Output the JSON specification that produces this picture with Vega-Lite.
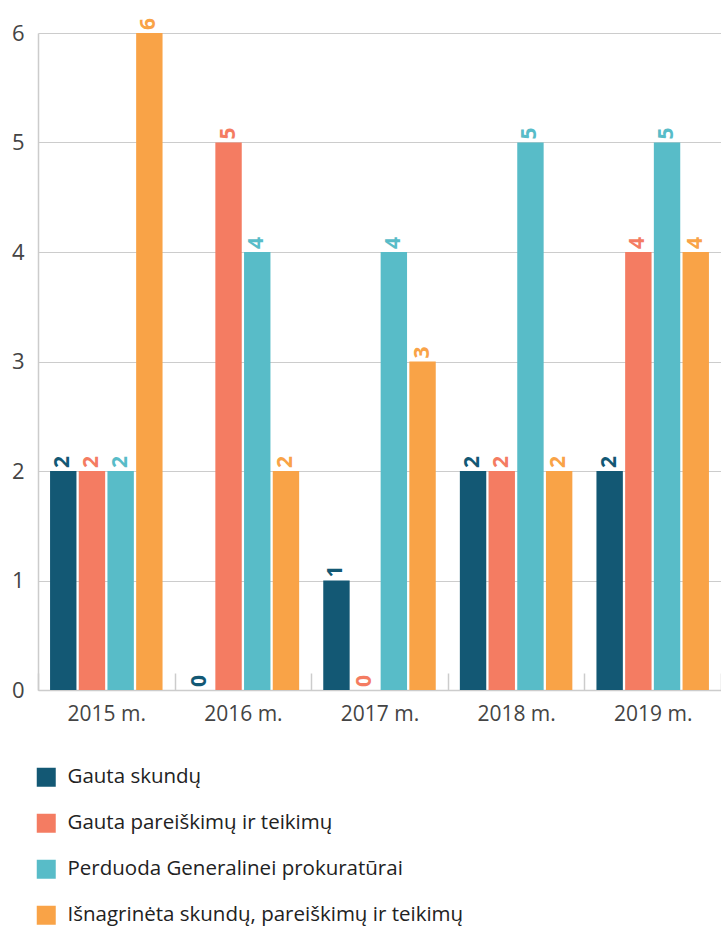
{
  "$schema": "https://vega.github.io/schema/vega-lite/v6.json",
  "width": 683,
  "height": 657,
  "autosize": {"type": "none"},
  "padding": {"left": 38, "top": 33, "right": 0, "bottom": 236},
  "background": "white",
  "config": {
    "font": "Open Sans",
    "view": {"stroke": null}
  },
  "data": {
    "values": [
      {"year": "2015 m.", "series": "Gauta skundų", "value": 2},
      {"year": "2015 m.", "series": "Gauta pareiškimų ir teikimų", "value": 2},
      {"year": "2015 m.", "series": "Perduoda Generalinei prokuratūrai", "value": 2},
      {"year": "2015 m.", "series": "Išnagrinėta skundų, pareiškimų ir teikimų", "value": 6},
      {"year": "2016 m.", "series": "Gauta skundų", "value": 0},
      {"year": "2016 m.", "series": "Gauta pareiškimų ir teikimų", "value": 5},
      {"year": "2016 m.", "series": "Perduoda Generalinei prokuratūrai", "value": 4},
      {"year": "2016 m.", "series": "Išnagrinėta skundų, pareiškimų ir teikimų", "value": 2},
      {"year": "2017 m.", "series": "Gauta skundų", "value": 1},
      {"year": "2017 m.", "series": "Gauta pareiškimų ir teikimų", "value": 0},
      {"year": "2017 m.", "series": "Perduoda Generalinei prokuratūrai", "value": 4},
      {"year": "2017 m.", "series": "Išnagrinėta skundų, pareiškimų ir teikimų", "value": 3},
      {"year": "2018 m.", "series": "Gauta skundų", "value": 2},
      {"year": "2018 m.", "series": "Gauta pareiškimų ir teikimų", "value": 2},
      {"year": "2018 m.", "series": "Perduoda Generalinei prokuratūrai", "value": 5},
      {"year": "2018 m.", "series": "Išnagrinėta skundų, pareiškimų ir teikimų", "value": 2},
      {"year": "2019 m.", "series": "Gauta skundų", "value": 2},
      {"year": "2019 m.", "series": "Gauta pareiškimų ir teikimų", "value": 4},
      {"year": "2019 m.", "series": "Perduoda Generalinei prokuratūrai", "value": 5},
      {"year": "2019 m.", "series": "Išnagrinėta skundų, pareiškimų ir teikimų", "value": 4}
    ]
  },
  "encoding": {
    "x": {
      "field": "year",
      "type": "nominal",
      "sort": null,
      "scale": {"paddingInner": 0, "paddingOuter": 0},
      "axis": {
        "title": null,
        "labelAngle": 0,
        "labelFontSize": 21,
        "labelColor": "#444444",
        "labelPadding": 30,
        "domainColor": "#cccccc",
        "domainWidth": 1.5,
        "tickColor": "#cccccc",
        "tickSize": -17,
        "tickWidth": 1.5,
        "tickBand": "extent"
      }
    },
    "xOffset": {
      "field": "series",
      "type": "nominal",
      "sort": null,
      "scale": {"paddingInner": 0.08, "paddingOuter": 0.42}
    },
    "y": {
      "field": "value",
      "type": "quantitative",
      "scale": {"domain": [0, 6]},
      "axis": {
        "title": null,
        "tickCount": 6,
        "labelFontSize": 22,
        "labelColor": "#444444",
        "labelPadding": 14,
        "ticks": false,
        "domainColor": "#cccccc",
        "domainWidth": 1.5,
        "gridColor": "#cccccc",
        "gridWidth": 1.2
      }
    },
    "color": {
      "field": "series",
      "type": "nominal",
      "sort": null,
      "scale": {
        "domain": ["Gauta skundų", "Gauta pareiškimų ir teikimų", "Perduoda Generalinei prokuratūrai", "Išnagrinėta skundų, pareiškimų ir teikimų"],
        "range": ["#135874", "#f47c62", "#58bcc8", "#f9a347"]
      },
      "legend": {
        "title": null,
        "orient": "none",
        "legendX": -2,
        "legendY": 734,
        "direction": "vertical",
        "symbolType": "square",
        "symbolSize": 361,
        "symbolStrokeWidth": 0,
        "labelFontSize": 20.5,
        "labelColor": "#222222",
        "labelOffset": 11,
        "rowPadding": 25,
        "padding": 0,
        "labelLimit": 600
      }
    }
  },
  "layer": [
    {"mark": {"type": "bar", "stroke": null}},
    {
      "mark": {
        "type": "text",
        "angle": 270,
        "align": "left",
        "baseline": "middle",
        "dx": 3,
        "fontSize": 21,
        "fontWeight": "bold"
      },
      "encoding": {"text": {"field": "value", "type": "quantitative"}}
    }
  ]
}
